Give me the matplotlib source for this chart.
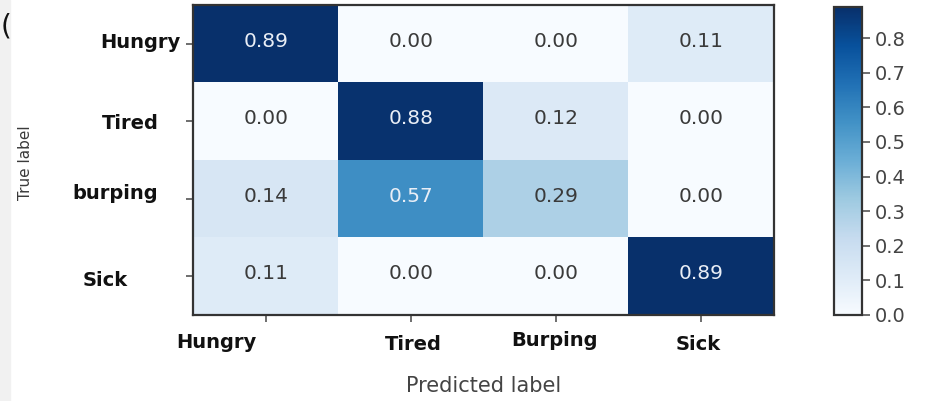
import numpy as np
import matplotlib
matplotlib.use("Agg")
import matplotlib.pyplot as plt
from matplotlib.transforms import ScaledTranslation
from matplotlib.patches import Rectangle

# Normalised confusion matrix (rows: true class, columns: predicted class)
true_labels = ["Hungry", "Tired", "burping", "Sick"]
pred_labels = ["Hungry", "Tired", "Burping", "Sick"]
row_hungry = [0.89, 0.00, 0.00, 0.11]
row_tired = [0.00, 0.88, 0.12, 0.00]
row_burping = [0.14, 0.57, 0.29, 0.00]
row_sick = [0.11, 0.00, 0.00, 0.89]
cbar_ticks = [0.0, 0.1, 0.2, 0.3, 0.4, 0.5, 0.6, 0.7, 0.8]

cm = np.array([row_hungry, row_tired, row_burping, row_sick])

fig = plt.figure(figsize=(9.30, 4.01), dpi=100)
fig.patches.append(Rectangle((0, 0), 10 / 930, 1, transform=fig.transFigure,
                             color="#f1f1f1", zorder=0))

ax = fig.add_axes([193 / 930, 86 / 401, 581 / 930, 310 / 401])
cax = fig.add_axes([834 / 930, 86 / 401, 28 / 930, 308 / 401])

vmax = cm.max()
im = ax.imshow(cm, cmap="Blues", vmin=0, vmax=vmax, aspect="auto",
               interpolation="nearest")

thresh = vmax / 2.0
for i in range(cm.shape[0]):
    for j in range(cm.shape[1]):
        ax.text(j, i - 0.03, f"{cm[i, j]:.2f}", ha="center", va="center",
                fontsize=14.5, family="DejaVu Sans",
                color="#e9eef6" if cm[i, j] > thresh else "#3a3a3a")

ax.set_xticks(range(len(pred_labels)))
ax.set_yticks(range(len(true_labels)))
ax.set_xticklabels(pred_labels, fontsize=14, fontweight="bold", color="#111111")
ax.set_yticklabels(true_labels, fontsize=14, fontweight="bold", color="#111111")
ax.tick_params(axis="both", length=5, width=1.2, color="#555555")
ax.tick_params(axis="x", pad=8)
ax.tick_params(axis="y", pad=10)
for sp in ax.spines.values():
    sp.set_linewidth(1.6)
    sp.set_color("#333333")

# individual label nudges (pixels: right, down)
x_nudge = [(-49, 0), (2, 2), (-2, -2), (-3, 2)]
y_nudge = [(8, -3), (-13, 0), (-14, -7), (-44, 2)]
for lab, (dx, dy) in zip(ax.get_xticklabels(), x_nudge):
    lab.set_transform(lab.get_transform() +
                      ScaledTranslation(dx / 100, -dy / 100, fig.dpi_scale_trans))
for lab, (dx, dy) in zip(ax.get_yticklabels(), y_nudge):
    lab.set_transform(lab.get_transform() +
                      ScaledTranslation(dx / 100, -dy / 100, fig.dpi_scale_trans))

fig.text(484 / 930, 1 - 386 / 401, "Predicted label", ha="center", va="center",
         fontsize=15, color="#444444")
fig.text(25 / 930, 1 - 163 / 401, "True label", ha="center", va="center",
         rotation=90, fontsize=11, color="#3a3a3a")
fig.text(0.5 / 930, 1 - 27 / 401, "(", ha="left", va="center", fontsize=20,
         color="#111111")

cb = fig.colorbar(im, cax=cax, ticks=cbar_ticks)
cb.ax.set_yticklabels([f"{t:.1f}" for t in cbar_ticks])
cb.ax.tick_params(length=6, width=1.2, color="#555555", pad=3,
                  labelsize=14, labelcolor="#444444")
cb.outline.set_linewidth(1.6)
cb.outline.set_edgecolor("#333333")

fig.savefig("out.png", dpi=100)
